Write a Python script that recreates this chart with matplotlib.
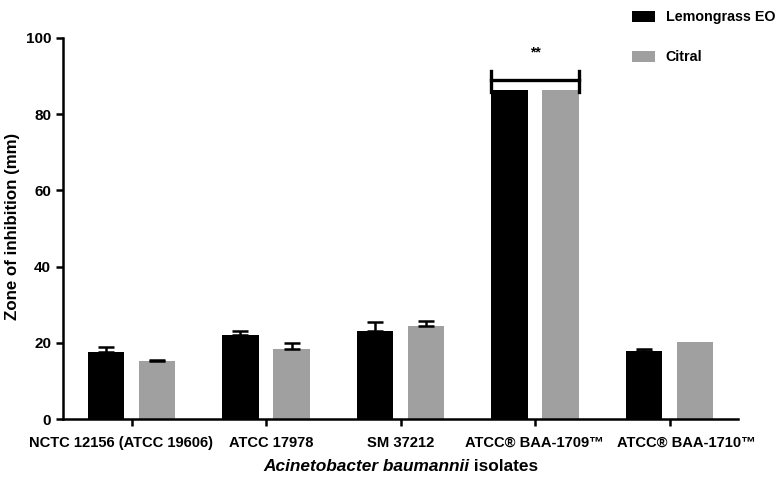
import numpy as np
import matplotlib.pyplot as plt
from matplotlib.transforms import ScaledTranslation

plt.rcParams['font.family'] = ['Liberation Sans', 'DejaVu Sans']
plt.rcParams['font.weight'] = 'bold'

isolates = ['NCTC 12156 (ATCC 19606)', 'ATCC 17978', 'SM 37212', 'ATCC® BAA-1709™', 'ATCC® BAA-1710™']
lemongrass = np.array([17.7, 22.0, 23.2, 86.4, 17.8])
lemongrass_err = np.array([1.3, 1.0, 2.3, 0.0, 0.7])
citral = np.array([15.2, 18.5, 24.3, 86.4, 20.3])
citral_err = np.array([0.3, 1.4, 1.3, 0.0, 0.0])

fig = plt.figure(figsize=(7.77, 4.8), dpi=100)
ax = fig.add_axes([0.081, 0.127, 0.869, 0.794])

x = np.arange(len(isolates))
w = 0.27
off = 0.19
b1 = ax.bar(x - off, lemongrass, w, color='black', label='Lemongrass EO')
b2 = ax.bar(x + off, citral, w, color='#a0a0a0', label='Citral')

# only upward error bars, skip the ones without spread
for xs, vals, errs in [(x - off, lemongrass, lemongrass_err), (x + off, citral, citral_err)]:
    m = errs > 0
    ax.errorbar(xs[m], vals[m], yerr=[np.zeros(m.sum()), errs[m]], fmt='none',
                ecolor='black', elinewidth=1.8, capsize=5.5, capthick=1.8)

# significance bracket over the 4th isolate
xl, xr = 3 - off - w / 2, 3 + off + w / 2
ax.plot([xl, xr], [88.9, 88.9], color='black', lw=2.4)
for xx in [xl, xr]:
    ax.plot([xx, xx], [85.9, 91.2], color='black', lw=2.4)
ax.text(3, 96.3, '**', ha='center', va='center', fontsize=10)

ax.set_xlim(-0.51, 4.51)
ax.set_ylim(0, 100)
ax.set_yticks([0, 20, 40, 60, 80, 100])
ax.set_xticks(x)
ax.set_xticklabels(isolates, fontsize=10.6, fontweight='bold')
ax.tick_params(axis='y', labelsize=11, width=1.8, length=5)
ax.tick_params(axis='x', width=1.8, length=5, pad=7)
# nudge labels like the original so they do not collide
shifts = [-10.5, 5, 0, -1, 17]
for lab, dx in zip(ax.get_xticklabels(), shifts):
    lab.set_transform(lab.get_transform() + ScaledTranslation(dx / 100, 0, fig.dpi_scale_trans))
for s in ['top', 'right']:
    ax.spines[s].set_visible(False)
for s in ['left', 'bottom']:
    ax.spines[s].set_linewidth(1.8)
ax.set_ylabel('Zone of inhibition (mm)', fontsize=12.2, fontweight='bold')
ax.yaxis.set_label_coords(-0.064, 0.505)

t1 = fig.text(0.339, 0.012, 'Acinetobacter baumannii', fontsize=12.4, fontweight='bold',
              fontstyle='italic', va='bottom')
ax.annotate(' isolates', xy=(1, 0), xycoords=t1, va='bottom', fontsize=12.4, fontweight='bold')

fig.legend(handles=[b1, b2], labels=['Lemongrass EO', 'Citral'], loc='upper left',
           bbox_to_anchor=(632 / 777, 1 - 10 / 480), frameon=False, fontsize=10.3,
           borderpad=0, borderaxespad=0, labelspacing=1.85, handlelength=1.6,
           handleheight=0.8, handletextpad=0.75)

fig.savefig('out.png', dpi=100)
